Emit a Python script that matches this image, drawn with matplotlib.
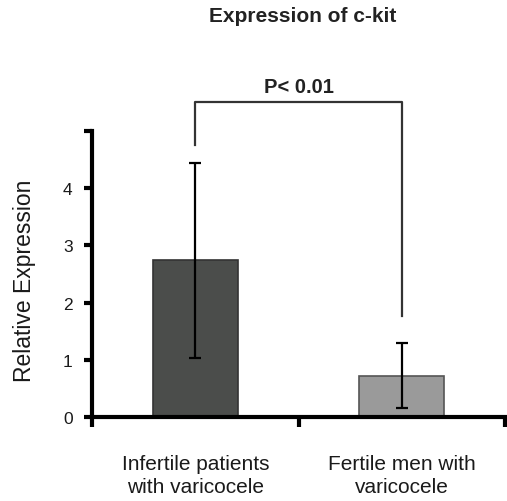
import matplotlib
matplotlib.use("Agg")
import matplotlib.pyplot as plt

plt.rcParams["font.family"] = ["Liberation Sans", "DejaVu Sans"]

# datos
categorias = ["Infertile patients\nwith varicocele", "Fertile men with\nvaricocele"]
valores = [2.74, 0.72]
errores = [1.70, 0.57]
colores = ["#4b4d4b", "#9a9a9a"]
bordes = ["#333333", "#555555"]
yticks = [0, 1, 2, 3, 4, 5]
yticklabels = ["0", "1", "2", "3", "4", ""]

fig = plt.figure(figsize=(5.07, 5.02), dpi=100)
ax = fig.add_axes([92 / 507, 1 - 418 / 502, 413 / 507, 286 / 502])

x = list(range(len(categorias)))
ax.bar(x, valores, width=0.41, color=colores, edgecolor=bordes, linewidth=1.2, zorder=2)
ax.errorbar(x, valores, yerr=errores, fmt="none", ecolor="black",
            elinewidth=1.6, capsize=4, capthick=1.6, zorder=3)

ax.set_xlim(-0.5, 1.5)
ax.set_ylim(0, 5)
ax.set_xticks([-0.5, 0.5, 1.5])
ax.set_xticklabels([])
ax.set_xticks(x, minor=True)
ax.set_xticklabels(categorias, minor=True, fontsize=15, color="#1a1a1a",
                   linespacing=1.25)
ax.tick_params(axis="x", which="minor", length=0, pad=27)
ax.tick_params(axis="x", which="major", direction="out", length=7, width=3)
ax.set_yticks(yticks)
ax.set_yticklabels(yticklabels, fontsize=12.5, color="#1a1a1a")
ax.tick_params(axis="y", direction="out", length=6, width=3, pad=8)

for s in ["top", "right"]:
    ax.spines[s].set_visible(False)
for s in ["left", "bottom"]:
    ax.spines[s].set_linewidth(3)

ax.set_ylabel("Relative Expression", fontsize=16.5, color="#1a1a1a")
ax.yaxis.set_label_coords(-0.135, 0.48)

# corchete de significancia
tope = 5.5
ax.plot([0, 0, 1, 1], [4.75, tope, tope, 1.77], color="#333333", lw=1.6,
        clip_on=False)
ax.text(0.5, tope + 0.12, "P< 0.01", ha="center", va="bottom", fontsize=14.5,
        fontweight="bold", color="#222222")

fig.text(303 / 507, 1 - 17 / 502, "Expression of c-kit", ha="center", va="center",
         fontsize=15, fontweight="bold", color="#222222")

fig.savefig("out.png", dpi=100)
